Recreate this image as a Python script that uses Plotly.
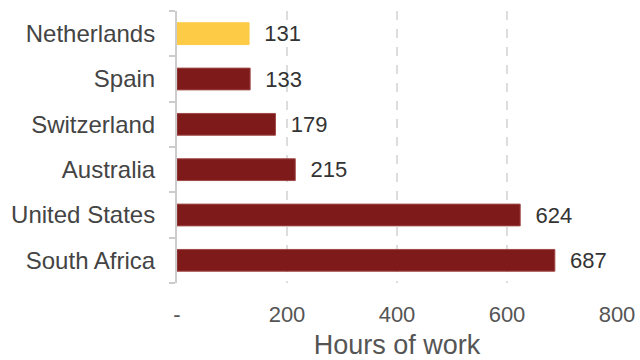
import plotly.graph_objects as go

countries = ["South Africa", "United States", "Australia", "Switzerland", "Spain", "Netherlands"]
hours = [687, 624, 215, 179, 133, 131]
highlight = "Netherlands"
tick_vals = [0, 200, 400, 600, 800]
tick_text = ["-", "200", "400", "600", "800"]

colors = ["#FDCB45" if c == highlight else "#7F1A1A" for c in countries]
lines = ["#FDCB45" if c == highlight else "#A04848" for c in countries]

fig = go.Figure(go.Bar(
    x=hours, y=countries, orientation="h",
    marker=dict(color=colors, line=dict(color=lines, width=1)),
    width=0.48,
    text=[f"  {v}" for v in hours],
    textposition="outside",
    constraintext="none",
    textfont=dict(size=22, color="#333333"),
    cliponaxis=False,
))

fig.update_layout(
    width=640, height=360,
    margin=dict(l=177, r=23, t=11, b=77),
    plot_bgcolor="white", paper_bgcolor="white",
    font=dict(family="Liberation Sans, Arial, sans-serif", size=22, color="#555555"),
    showlegend=False,
)
fig.update_xaxes(
    range=[0, 800], tickvals=tick_vals, ticktext=tick_text,
    showgrid=True, griddash="dash", gridcolor="#DDDDDD", gridwidth=1.5,
    zeroline=False, showline=False, ticks="",
    automargin=False,
    ticklabelstandoff=16,
    title=dict(text="Hours of work", font=dict(size=27, color="#555555"), standoff=12),
    tickfont=dict(size=22, color="#555555"),
)
fig.update_yaxes(
    showline=True, linecolor="#CCCCCC", linewidth=2,
    ticks="outside", tickson="boundaries", ticklen=6, tickcolor="#CCCCCC", tickwidth=2,
    automargin=False,
    ticklabelstandoff=15,
    tickfont=dict(size=24, color="#444444"),
    showgrid=False,
)

fig.write_html("out.html")
